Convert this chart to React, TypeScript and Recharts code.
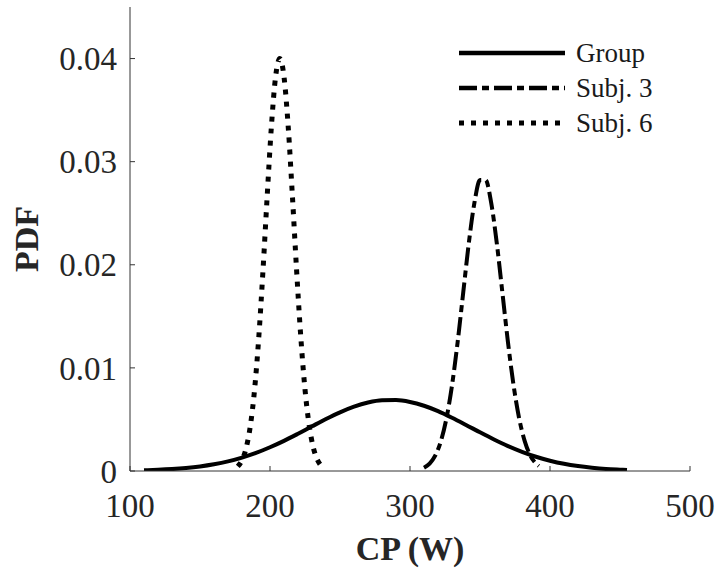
import React from "react"
import { LineChart, Line, XAxis, YAxis, Legend } from "recharts"

// values
const groupX = [110, 120, 130, 140, 150, 160, 170, 180, 190, 200, 210, 220, 230, 240, 250, 260, 270, 280, 290, 300, 310, 320, 330, 340, 350, 360, 370, 380, 390, 400, 410, 420, 430, 440, 450, 455]
const groupY = [0.00007, 0.000115, 0.000185, 0.00029, 0.00044, 0.00065, 0.00093, 0.0013, 0.00175, 0.0023, 0.00292, 0.00361, 0.00433, 0.00504, 0.00569, 0.00624, 0.00664, 0.00686, 0.00688, 0.0067, 0.00633, 0.00581, 0.00517, 0.00447, 0.00375, 0.00306, 0.00242, 0.00186, 0.00138, 0.001, 0.0007, 0.00048, 0.00032, 0.0002, 0.00013, 0.0001]

const subj3X = [310, 314, 318, 322, 326, 330, 334, 338, 342, 346, 350, 354, 358, 362, 366, 370, 374, 378, 382, 386, 390, 392]
const subj3Y = [0.00032, 0.00072, 0.00149, 0.00287, 0.00508, 0.00829, 0.01247, 0.01729, 0.02209, 0.026, 0.02821, 0.02821, 0.026, 0.02209, 0.01729, 0.01247, 0.00829, 0.00508, 0.00287, 0.00149, 0.00072, 0.00048]

const subj6X = [177, 180, 183, 186, 189, 192, 195, 198, 201, 204, 207, 210, 213, 216, 219, 222, 225, 228, 231, 234, 236]
const subj6Y = [0.00044, 0.00105, 0.00224, 0.00441, 0.00792, 0.01299, 0.01947, 0.02668, 0.03341, 0.03824, 0.04, 0.03824, 0.03341, 0.02668, 0.01947, 0.01299, 0.00792, 0.00441, 0.00224, 0.00105, 0.0006]

const xTicks = [100, 200, 300, 400, 500]
const yTicks = [0, 0.01, 0.02, 0.03, 0.04]

const seriesNames = ["Group", "Subj. 3", "Subj. 6"]
const dashes = ["", "18 5 7 5", "5 7"]

const toRows = (xs: number[], ys: number[]) => xs.map((x, i) => ({ x, y: ys[i] }))

const FONT = "'Liberation Serif', 'Times New Roman', serif"
const AXIS = "#333333"

function LegendBox() {
  return (
    <div style={{ fontFamily: FONT, fontSize: 27, color: "#1a1a1a" }}>
      {seriesNames.map((name, i) => (
        <div key={name} style={{ display: "flex", alignItems: "center", height: 35 }}>
          <svg width={106} height={10} style={{ marginRight: 11 }}>
            <line x1={0} y1={5} x2={106} y2={5} stroke="#000" strokeWidth={i === 2 ? 5 : 4.5} strokeDasharray={dashes[i] || undefined} />
          </svg>
          <span style={{ lineHeight: "35px" }}>{name}</span>
        </div>
      ))}
    </div>
  )
}

export default function App() {
  return (
    <div style={{ position: "absolute", left: 0, top: 0, background: "#fff" }}>
      <LineChart width={719} height={571} margin={{ top: 7, right: 29, bottom: 0, left: 0 }}>
        <XAxis
          type="number"
          dataKey="x"
          domain={[100, 500]}
          ticks={xTicks}
          allowDataOverflow
          height={100}
          tickSize={-5}
          tickMargin={28}
          stroke={AXIS}
          tick={{ fill: "#262626", fontSize: 33, fontFamily: FONT }}
          label={{ value: "CP (W)", position: "insideBottom", offset: 11, fill: "#262626", fontSize: 34, fontWeight: "bold", fontFamily: FONT }}
        />
        <YAxis
          type="number"
          dataKey="y"
          domain={[0, 0.045]}
          ticks={yTicks}
          allowDataOverflow
          width={130}
          tickSize={-5}
          tickMargin={18}
          stroke={AXIS}
          tickFormatter={(v: number) => (v === 0 ? "0" : String(v))}
          tick={{ fill: "#262626", fontSize: 33, fontFamily: FONT }}
          label={{
            content: ({ viewBox }: any) => (
              <text
                x={viewBox.x + 38}
                y={viewBox.y + viewBox.height / 2}
                transform={`rotate(-90, ${viewBox.x + 38}, ${viewBox.y + viewBox.height / 2})`}
                textAnchor="middle"
                fill="#262626"
                fontSize={34}
                fontWeight="bold"
                fontFamily={FONT}
              >
                PDF
              </text>
            ),
          }}
        />
        <Legend
          content={<LegendBox />}
          layout="vertical"
          align="center"
          verticalAlign="middle"
          wrapperStyle={{ left: 459, top: 35.5, width: 200 }}
        />
        <Line data={toRows(groupX, groupY)} dataKey="y" name={seriesNames[0]} type="monotone" stroke="#000" strokeWidth={4} dot={false} isAnimationActive={false} />
        <Line data={toRows(subj3X, subj3Y)} dataKey="y" name={seriesNames[1]} type="monotone" stroke="#000" strokeWidth={4} strokeDasharray={dashes[1]} dot={false} isAnimationActive={false} />
        <Line data={toRows(subj6X, subj6Y)} dataKey="y" name={seriesNames[2]} type="monotone" stroke="#000" strokeWidth={5} strokeDasharray={dashes[2]} dot={false} isAnimationActive={false} />
      </LineChart>
    </div>
  )
}
